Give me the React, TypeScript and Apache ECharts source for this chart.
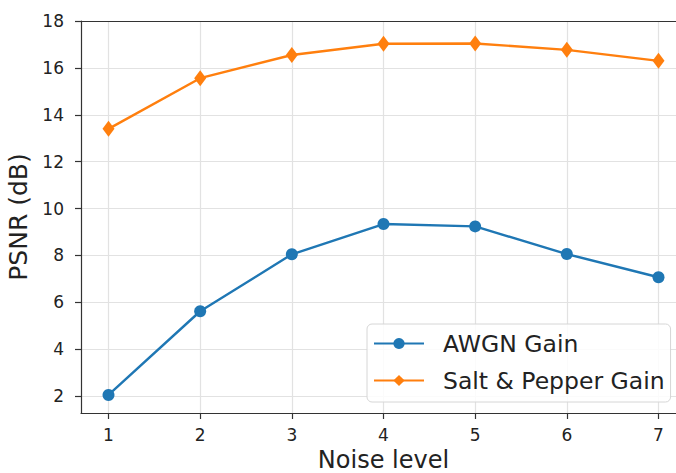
import React, { useEffect, useRef } from "react";
import * as echarts from "echarts";

const noiseLevels = [1, 2, 3, 4, 5, 6, 7];
const awgnGain = [2.05, 5.62, 8.05, 9.34, 9.24, 8.06, 7.07];
const saltPepperGain = [13.4, 15.56, 16.55, 17.03, 17.04, 16.77, 16.3];
const xTicks = [1, 2, 3, 4, 5, 6, 7];
const yTicks = [2, 4, 6, 8, 10, 12, 14, 16, 18];

const FONT = "DejaVu Sans";

export default function App() {
  const ref = useRef<HTMLDivElement>(null);
  useEffect(() => {
    document.body.style.margin = "0";
    const chart = echarts.init(ref.current!, null, { renderer: "svg" });
    const axisLineStyle = { color: "#333", width: 1.2 };
    const gridLineStyle = { color: "#e2e2e2", width: 1.2 };
    chart.setOption({
      animation: false,
      backgroundColor: "#fff",
      grid: { left: 81, top: 21, width: 605, bottom: 60, outerBoundsMode: "none", containLabel: false },
      xAxis: [
        {
          type: "value",
          min: 0.7,
          max: 7.3,
          position: "bottom",
          name: "Noise level",
          nameLocation: "middle",
          nameGap: 35,
          nameTextStyle: { fontFamily: FONT, fontSize: 24, lineHeight: 22, color: "#222" },
          axisLine: { show: true, onZero: false, lineStyle: axisLineStyle },
          axisTick: { show: true, length: 6, customValues: xTicks, lineStyle: axisLineStyle },
          axisLabel: {
            customValues: xTicks,
            margin: 13,
            fontFamily: FONT,
            fontSize: 17,
            color: "#222",
            formatter: (v: number) => (Number.isInteger(v) ? String(v) : ""),
          },
          splitLine: { show: true, lineStyle: gridLineStyle },
        },
        {
          type: "value",
          min: 0.7,
          max: 7.3,
          position: "top",
          z: 5,
          axisLine: { show: true, onZero: false, lineStyle: axisLineStyle },
          axisTick: { show: false },
          axisLabel: { show: false },
          splitLine: { show: false },
        },
      ],
      yAxis: {
        type: "value",
        min: 1.28,
        max: 18,
        splitNumber: 8,
        name: "PSNR (dB)",
        nameLocation: "middle",
        nameGap: 40,
        nameTextStyle: { fontFamily: FONT, fontSize: 25, color: "#222" },
        axisLine: { show: true, onZero: false, lineStyle: axisLineStyle },
        axisTick: { show: true, length: 6, customValues: yTicks, lineStyle: axisLineStyle },
        axisLabel: {
          customValues: yTicks,
          margin: 17,
          fontFamily: FONT,
          fontSize: 17,
          color: "#222",
          formatter: (v: number) => (Number.isInteger(v) ? String(v) : ""),
        },
        splitLine: { show: true, lineStyle: gridLineStyle },
      },
      legend: {
        left: 367,
        top: 324,
        orient: "vertical",
        padding: [6, 6, 8, 6],
        itemWidth: 50,
        itemHeight: 14,
        itemGap: 10,
        borderColor: "#d6d6d6",
        borderWidth: 1,
        borderRadius: 5,
        backgroundColor: "rgba(255,255,255,0.85)",
        textStyle: {
          fontFamily: FONT,
          fontSize: 23.5,
          lineHeight: 27,
          color: "#222",
          padding: [0, 0, 0, 14],
        },
        data: ["AWGN Gain", "Salt & Pepper Gain"],
      },
      series: [
        {
          name: "AWGN Gain",
          type: "line",
          data: noiseLevels.map((x, i) => [x, awgnGain[i]]),
          color: "#1f77b4",
          lineStyle: { width: 2.4, color: "#1f77b4" },
          symbol: "circle",
          symbolSize: 12,
          itemStyle: { color: "#1f77b4" },
          z: 3,
        },
        {
          name: "Salt & Pepper Gain",
          type: "line",
          data: noiseLevels.map((x, i) => [x, saltPepperGain[i]]),
          color: "#ff7f0e",
          lineStyle: { width: 2.4, color: "#ff7f0e" },
          symbol: "diamond",
          symbolSize: [12, 16],
          itemStyle: { color: "#ff7f0e" },
          z: 3,
        },
      ],
    });
    return () => chart.dispose();
  }, []);
  return <div ref={ref} style={{ width: 676, height: 473 }} />;
}
